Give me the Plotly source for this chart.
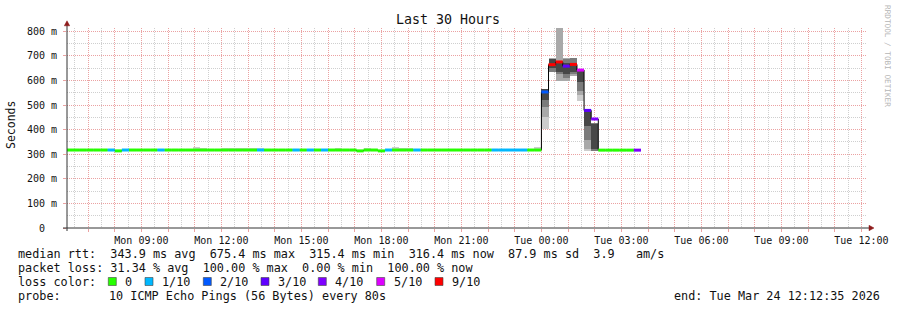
import plotly.graph_objects as go
from datetime import datetime, timedelta

# ------------------------------------------------------------------ data
first_interval = "2026-03-23 06:08:00"   # start of first consolidated interval
interval_minutes = 16
range_start = "2026-03-23 06:12:35"
range_end = "2026-03-24 12:12:35"

# median rtt (ms) per 16-minute interval, 06:08 Mon .. 03:28 Tue
median_ms = [
    317, 317, 317, 317, 317, 317, 317, 313.5, 317, 317,      # 06:08 - 08:32
    317, 317, 317, 317, 317, 317, 317, 317, 317, 317,        # 08:48 - 11:12
    317, 317, 317, 317, 317, 317, 317, 317, 317, 317,        # 11:28 - 13:52
    317, 317, 317, 317, 317, 317, 317, 317, 317, 317,        # 14:08 - 16:32
    317, 313.5, 317, 317, 313.5, 317, 317, 317, 317, 317,    # 16:48 - 19:12
    317, 317, 317, 317, 317, 317, 317, 317, 317, 317,        # 19:28 - 21:52
    317, 317, 317, 317, 317, 317, 317,                       # 22:08 - 23:44
    553, 664, 675, 658, 665, 642, 478, 443,                  # 00:00 - 01:52
    316.5, 316.5, 316.5, 316.5, 316.5, 316.5,                # 02:08 - 03:28
]
# lost pings (out of 10) per interval
loss_tenths = [
    0, 0, 0, 0, 0, 0, 1, 0, 1, 0,
    0, 0, 0, 1, 0, 0, 0, 0, 0, 0,
    0, 0, 0, 0, 0, 0, 0, 1, 0, 0,
    0, 0, 1, 0, 1, 0, 1, 0, 0, 0,
    0, 0, 0, 0, 0, 1, 0, 0, 0, 1,
    0, 0, 0, 0, 0, 0, 0, 0, 0, 0,
    1, 1, 1, 1, 1, 0, 0,
    2, 9, 9, 3, 9, 5, 3, 4,
    0, 0, 0, 0, 0, 4,
]

# smoke (ping spread) bands, outermost (a) to innermost (d)
smoke_start = [
    "2026-03-23 10:56", "2026-03-23 11:12", "2026-03-23 12:00", "2026-03-23 12:16",
    "2026-03-23 12:32", "2026-03-23 12:48", "2026-03-23 13:04", "2026-03-23 13:20",
    "2026-03-23 16:16", "2026-03-23 17:20", "2026-03-23 18:24", "2026-03-23 18:40",
    "2026-03-23 18:56", "2026-03-23 23:44",
    "2026-03-24 00:00", "2026-03-24 00:16", "2026-03-24 00:32", "2026-03-24 00:48",
    "2026-03-24 01:04", "2026-03-24 01:20", "2026-03-24 01:36", "2026-03-24 01:52",
]
smoke_a_lo = [317, 317, 317, 317, 317, 317, 317, 317, 317, 317, 317, 317, 317, 317,
              403, 634, 599, 598, 619, 518, 315, 315]
smoke_a_hi = [331, 326, 326, 326, 326, 326, 326, 326, 326, 326, 331, 326, 326, 331,
              566, 690, 830, 690, 692, 645, 480, 426]
smoke_b_lo = [None] * 14 + [450, 634, 599, 598, 619, 540, 320, 315]
smoke_b_hi = [None] * 14 + [566, 690, 830, 690, 692, 645, 480, 426]
smoke_c_lo = [None] * 14 + [491, 636, 625, 610, 625, 558, 358, 315]
smoke_c_hi = [None] * 14 + [566, 688, 680, 688, 692, 645, 480, 426]
smoke_d_lo = [None] * 14 + [521, 650, 634, 626, 633, 592, 413, 322]
smoke_d_hi = [None] * 14 + [566, 688, 672, 670, 672, 645, 480, 422]

loss_labels = ["0", "1/10", "2/10", "3/10", "4/10", "5/10", "9/10"]
loss_label_tenths = [0, 1, 2, 3, 4, 5, 9]

y_tick_values = [0, 100, 200, 300, 400, 500, 600, 700, 800]
y_tick_labels = ["0\u00a0\u00a0", "100 m", "200 m", "300 m", "400 m",
                 "500 m", "600 m", "700 m", "800 m"]

stats_line = "median rtt:  343.9 ms avg  675.4 ms max  315.4 ms min  316.4 ms now  87.9 ms sd  3.9   am/s"
loss_line = "packet loss: 31.34 % avg  100.00 % max  0.00 % min  100.00 % now"
probe_text = "10 ICMP Echo Pings (56 Bytes) every 80s"
end_text = "end: Tue Mar 24 12:12:35 2026"

# ------------------------------------------------------------------ styles
FONT = "DejaVu Sans Mono"
TXT = "#111111"
LOSS_COLORS = {0: "#26ff00", 1: "#00b8ff", 2: "#0059ff", 3: "#5e00ff",
               4: "#7e00ff", 5: "#dd00ff", 9: "#ff0000"}
SHADES = ["#cdcdcd", "#a9a9a9", "#7b7b7b", "#474747"]
MAJOR = "#eba2a2"
MINOR = "#cfcfcf"

W, H = 897, 310
L, R, T, B = 67, 30, 28, 82
PW, PH = W - L - R, H - T - B


def px(x):
    return (x - L) / PW


def py(y):
    return (T + PH - y) / PH


t0 = datetime.fromisoformat(first_interval)
dt = timedelta(minutes=interval_minutes)
dt_ms = interval_minutes * 60 * 1000
starts = [t0 + i * dt for i in range(len(median_ms))]

fig = go.Figure()

# smoke
bands = [(smoke_a_lo, smoke_a_hi), (smoke_b_lo, smoke_b_hi),
         (smoke_c_lo, smoke_c_hi), (smoke_d_lo, smoke_d_hi)]
for (lo_arr, hi_arr), shade in zip(bands, SHADES):
    xs, bases, hs = [], [], []
    for s, lo, hi in zip(smoke_start, lo_arr, hi_arr):
        if lo is None:
            continue
        st = datetime.fromisoformat(s)
        xs.append(st + dt / 2)
        bases.append(lo)
        hs.append(hi - lo)
    fig.add_trace(go.Bar(x=xs, y=hs, base=bases, width=[dt_ms] * len(xs),
                         marker=dict(color=shade, line=dict(width=0)),
                         hoverinfo="skip", showlegend=False))

# black median step line
fig.add_trace(go.Scatter(x=starts + [starts[-1] + dt], y=median_ms + [median_ms[-1]],
                         mode="lines", line=dict(color="#000000", width=1, shape="hv"),
                         hoverinfo="skip", showlegend=False))

# loss-coloured median segments
for tenths, color in LOSS_COLORS.items():
    xs, ys = [], []
    for st, m, lt in zip(starts, median_ms, loss_tenths):
        if lt == tenths:
            xs += [st, st + dt, None]
            ys += [m, m, None]
    if xs:
        fig.add_trace(go.Scatter(x=xs, y=ys, mode="lines",
                                 line=dict(color=color, width=3),
                                 hoverinfo="skip", showlegend=False))

# axes
rs = datetime.fromisoformat(range_start)
re_ = datetime.fromisoformat(range_end)
hour = rs.replace(minute=0, second=0) + timedelta(hours=1)
tickvals, ticktext = [], []
while hour <= re_:
    tickvals.append(hour)
    ticktext.append(hour.strftime("%a %H:%M") if hour.hour % 3 == 0 else "")
    hour += timedelta(hours=1)

fig.update_xaxes(type="date", range=[rs, re_], tickmode="array", tickvals=tickvals,
                 ticktext=ticktext, showgrid=True, gridcolor=MAJOR, griddash="1px,1px",
                 gridwidth=1, ticks="outside", ticklen=3, tickcolor=MAJOR,
                 minor=dict(dtick=1800000, tick0="2026-03-23 00:00", showgrid=True,
                            gridcolor=MINOR, griddash="1px,1px", gridwidth=1, ticks=""),
                 showline=False, zeroline=False, automargin=False, tickangle=0,
                 tickfont=dict(family=FONT, size=10, color=TXT), fixedrange=True)
fig.update_yaxes(range=[0, 813], tickmode="array", tickvals=y_tick_values,
                 ticktext=y_tick_labels, showgrid=True, gridcolor=MAJOR,
                 griddash="1px,1px", gridwidth=1, ticks="outside", ticklen=3,
                 tickcolor=MAJOR, ticklabelstandoff=4,
                 minor=dict(dtick=50, tick0=0, showgrid=True, gridcolor=MINOR,
                            griddash="1px,1px", gridwidth=1, ticks=""),
                 showline=False, zeroline=False, automargin=False,
                 tickfont=dict(family=FONT, size=10, color=TXT), fixedrange=True)

shapes = []
AX = "#333333"
ARROW = "#8e1b1b"
shapes.append(dict(type="line", xref="paper", yref="paper", x0=px(63), x1=px(870),
                   y0=py(228), y1=py(228), line=dict(color=AX, width=1), layer="above"))
shapes.append(dict(type="line", xref="paper", yref="paper", x0=px(67), x1=px(67),
                   y0=py(231), y1=py(23), line=dict(color=AX, width=1), layer="above"))
shapes.append(dict(type="path", xref="paper", yref="paper",
                   path=f"M {px(64.3)},{py(25.8)} L {px(67)},{py(20.8)} L {px(69.7)},{py(25.8)} Z",
                   fillcolor=ARROW, line=dict(color=ARROW, width=0.5), layer="above"))
shapes.append(dict(type="path", xref="paper", yref="paper",
                   path=f"M {px(869)},{py(225.3)} L {px(874)},{py(228)} L {px(869)},{py(230.7)} Z",
                   fillcolor=ARROW, line=dict(color=ARROW, width=0.5), layer="above"))

annotations = []


def text(s, x, y, size=11.8, anchor="left", color=TXT, angle=0):
    annotations.append(dict(text=s.replace(" ", "\u00a0"), x=px(x), y=py(y),
                            xref="paper", yref="paper", xanchor=anchor, yanchor="middle",
                            showarrow=False, textangle=angle,
                            font=dict(family=FONT, size=size, color=color)))


text("Last 30 Hours", 448, 20, size=13.3, anchor="center")
text("Seconds", 11, 125, size=11.5, anchor="center", angle=-90)
text("RRDTOOL / TOBI OETIKER", 888, 56, size=7.7, anchor="center", color="#b5b5b5", angle=90)
text(stats_line, 16, 254)
text(loss_line, 16, 268)
text("loss color:", 16, 282)
label_x = [123.3, 160, 218.3, 276, 333.3, 391.7, 450]
for lab, tenths, lx in zip(loss_labels, loss_label_tenths, label_x):
    text(lab, lx, 282)
    sx = lx - 15
    shapes.append(dict(type="rect", xref="paper", yref="paper",
                       x0=px(sx), x1=px(sx + 8), y0=py(277.5), y1=py(285.5),
                       fillcolor=LOSS_COLORS[tenths], line=dict(color="#444444", width=0.6)))
text("probe:", 16, 296)
text(probe_text, 107.3, 296)
text(end_text, 882, 296, anchor="right")

fig.update_layout(width=W, height=H, autosize=False,
                  margin=dict(l=L, r=R, t=T, b=B, pad=0),
                  paper_bgcolor="white", plot_bgcolor="white",
                  barmode="overlay", bargap=0, showlegend=False,
                  shapes=shapes, annotations=annotations,
                  font=dict(family=FONT, color=TXT))

fig.write_html("out.html", config={"displayModeBar": False})
